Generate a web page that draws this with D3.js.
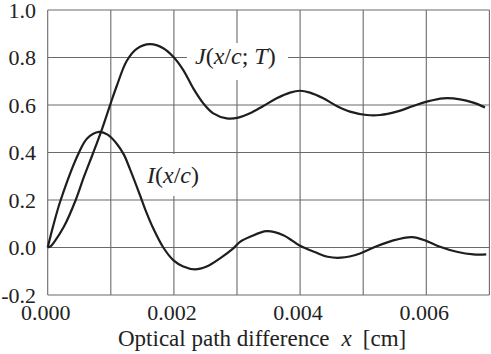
<!DOCTYPE html>
<html>
<head>
<meta charset="utf-8">
<script src="https://cdn.jsdelivr.net/npm/d3@7"></script>
</head>
<body style="margin:0; background:#fff">
<svg id="svg" width="491" height="354" font-family="Times New Roman"></svg>
<script>
// tick values
const xTicks = [0, 0.001, 0.002, 0.003, 0.004, 0.005, 0.006, 0.007];
const xTickLabels = ["0.000", "0.002", "0.004", "0.006"];
const yTicks = [-0.2, 0, 0.2, 0.4, 0.6, 0.8, 1.0];
const yTickLabels = ["-0.2", "0.0", "0.2", "0.4", "0.6", "0.8", "1.0"];

// J(x/c; T)
const jX = [0, 0.00005, 0.0001, 0.000258, 0.000444, 0.000575, 0.000723, 0.000865, 0.000998,
	0.001094, 0.001252, 0.00141, 0.001621, 0.001832, 0.00199, 0.002149, 0.002307,
	0.002466, 0.002624, 0.002837, 0.003021, 0.003206, 0.003417, 0.003629, 0.00384,
	0.003998, 0.004157, 0.004368, 0.00458, 0.004791, 0.005055, 0.005266, 0.005531,
	0.005794, 0.006006, 0.006269, 0.006534, 0.006745, 0.00693];
const jY = [0, 0.006, 0.022, 0.088, 0.2, 0.298, 0.4, 0.502, 0.607,
	0.68, 0.785, 0.836, 0.856, 0.839, 0.803, 0.747, 0.67,
	0.607, 0.565, 0.544, 0.547, 0.565, 0.596, 0.628, 0.652,
	0.66, 0.652, 0.628, 0.596, 0.572, 0.558, 0.558, 0.572,
	0.596, 0.614, 0.628, 0.624, 0.61, 0.59];

// I(x/c)
const iX = [0, 0.000084, 0.000206, 0.000496, 0.000628, 0.000813, 0.00095, 0.0011, 0.001209, 0.001304,
	0.001463, 0.001542, 0.001674, 0.001832, 0.00199, 0.002149, 0.002334, 0.00252,
	0.002731, 0.002941, 0.003048, 0.003206, 0.00347, 0.003734, 0.003998, 0.004241,
	0.004437, 0.004647, 0.004951, 0.005166, 0.005454, 0.005775, 0.006006, 0.006217,
	0.006482, 0.006745, 0.00695];
const iY = [0, 0.088, 0.2, 0.4, 0.46, 0.487, 0.475, 0.435, 0.39, 0.33,
	0.22, 0.163, 0.08, 0.0, -0.053, -0.08, -0.092, -0.08,
	-0.046, -0.004, 0.024, 0.045, 0.069, 0.052, 0.007, -0.02,
	-0.039, -0.043, -0.025, 0.0, 0.028, 0.044, 0.027, 0.003,
	-0.018, -0.029, -0.029];

const svg = d3.select("#svg");

const x = d3.scaleLinear().domain([0, 0.007]).range([47.7, 489.4]);
const y = d3.scaleLinear().domain([-0.2, 1.0]).range([295, 10]);

// grid + frame
const grid = svg.append("g").attr("stroke", "#6a6a6a").attr("stroke-width", 1.1);
grid.selectAll(".vline")
	.data(xTicks)
	.enter()
	.append("line")
	.attr("x1", (d) => x(d))
	.attr("x2", (d) => x(d))
	.attr("y1", y(1.0))
	.attr("y2", y(-0.2));
grid.selectAll(".hline")
	.data(yTicks)
	.enter()
	.append("line")
	.attr("x1", x(0))
	.attr("x2", x(0.007))
	.attr("y1", (d) => y(d))
	.attr("y2", (d) => y(d));

// y tick labels
svg.append("g")
	.selectAll("text")
	.data(yTicks)
	.enter()
	.append("text")
	.attr("x", 36)
	.attr("y", (d) => y(d))
	.attr("dy", "0.35em")
	.attr("text-anchor", "end")
	.attr("font-family", "Times New Roman")
	.attr("font-size", 22)
	.attr("fill", "#222")
	.text((d, i) => yTickLabels[i]);

// x tick labels
svg.append("g")
	.selectAll("text")
	.data(xTickLabels)
	.enter()
	.append("text")
	.attr("x", (d) => x(+d) - 2)
	.attr("y", 320)
	.attr("text-anchor", "middle")
	.attr("font-family", "Times New Roman")
	.attr("font-size", 22)
	.attr("fill", "#222")
	.text((d) => d);

// axis title
const title = svg.append("text")
	.attr("x", 118)
	.attr("y", 346)
	.attr("fill", "#222")
	.attr("font-family", "Times New Roman")
	.attr("font-size", 23);
title.append("tspan").text("Optical path difference");
title.append("tspan").attr("dx", 12).attr("font-style", "italic").text("x");
title.append("tspan").attr("dx", 11).text("[cm]");

// white boxes behind the curve labels
svg.append("rect").attr("x", 187).attr("y", 43).attr("width", 101).attr("height", 37).attr("fill", "#fff");
svg.append("rect").attr("x", 143).attr("y", 154).attr("width", 60).attr("height", 42).attr("fill", "#fff");

// curves
const line = d3.line()
	.x((d) => x(d[0]))
	.y((d) => y(d[1]))
	.curve(d3.curveCatmullRom.alpha(0.5));

svg.append("path")
	.datum(d3.zip(jX, jY))
	.attr("d", line)
	.attr("fill", "none")
	.attr("stroke", "#1e1e1e")
	.attr("stroke-width", 2.2);

svg.append("path")
	.datum(d3.zip(iX, iY))
	.attr("d", line)
	.attr("fill", "none")
	.attr("stroke", "#1e1e1e")
	.attr("stroke-width", 2.2);

// curve labels: italic and upright parts
function label(xPos, yPos, parts) {
	const t = svg.append("text")
		.attr("x", xPos)
		.attr("y", yPos)
		.attr("fill", "#222")
		.attr("font-family", "Times New Roman")
		.attr("font-size", 24);
	parts.forEach((p) => {
		t.append("tspan")
			.attr("font-style", p[1] ? "italic" : "normal")
			.text(p[0]);
	});
}
label(195, 63.5, [["J", 1], ["(", 0], ["x", 1], ["/", 0], ["c", 1], ["; ", 0], ["T", 1], [")", 0]]);
label(147, 183, [["I", 1], ["(", 0], ["x", 1], ["/", 0], ["c", 1], [")", 0]]);
</script>
</body>
</html>
